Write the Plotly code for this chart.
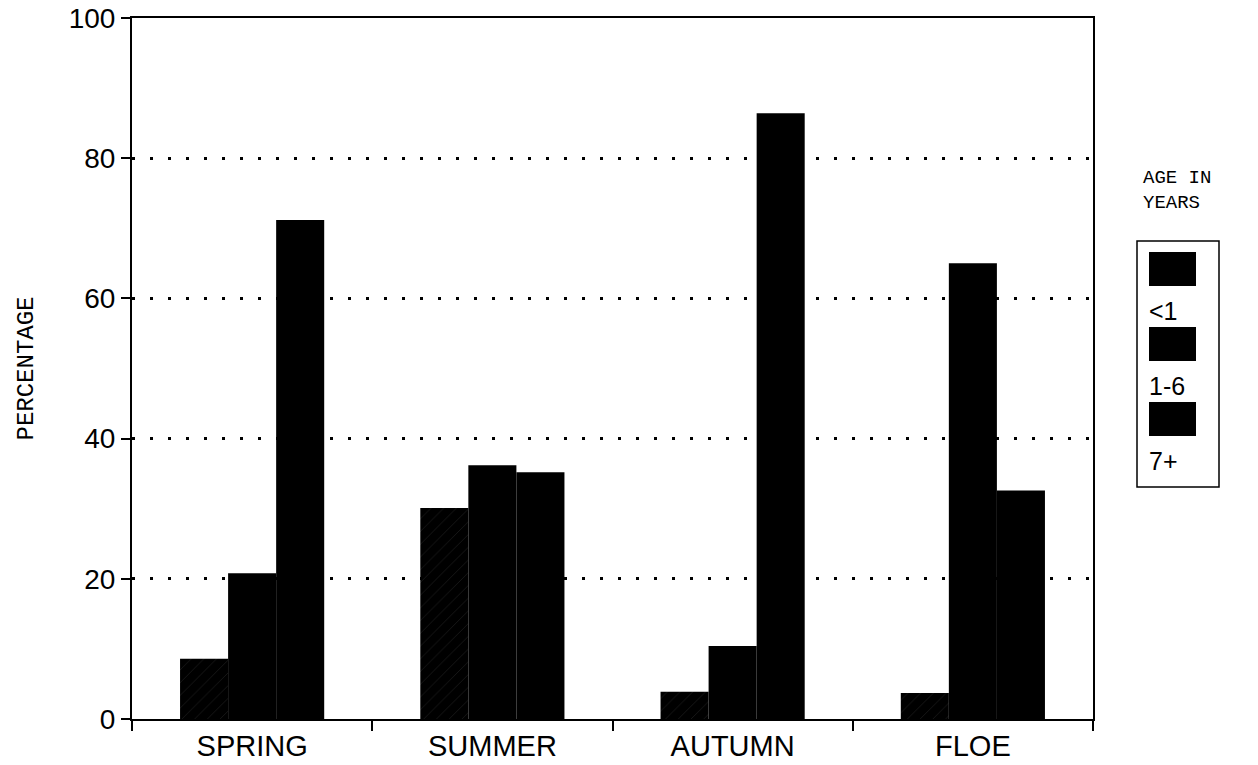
import plotly.graph_objects as go

categories = ["SPRING", "SUMMER", "AUTUMN", "FLOE"]
age_groups = ["<1", "1-6", "7+"]
values_lt1 = [8.6, 30.1, 3.9, 3.7]
values_1_6 = [20.8, 36.2, 10.4, 65.0]
values_7p = [71.2, 35.2, 86.4, 32.6]
y_ticks = [0, 20, 40, 60, 80, 100]

W, H = 1258, 765
L, R, T, B = 132, 165, 18, 46
PW, PH = W - L - R, H - T - B


def px(x):
    return (x - L) / PW


def py(y):
    return (H - B - y) / PH


fig = go.Figure()
series = [values_lt1, values_1_6, values_7p]
patterns = [
    dict(shape="/", fgcolor="#3a3a3a", bgcolor="#000000", size=9, solidity=0.08),
    dict(shape=""),
    dict(shape=""),
]
for name, vals, pat in zip(age_groups, series, patterns):
    fig.add_trace(go.Bar(
        x=categories, y=vals, name=name,
        marker=dict(color="#000000", line=dict(width=0), pattern=pat),
        showlegend=False,
    ))

fig.update_layout(
    width=W, height=H,
    margin=dict(l=L, r=R, t=T, b=B, pad=0, autoexpand=False),
    paper_bgcolor="white", plot_bgcolor="white",
    barmode="group", bargap=0.4, bargroupgap=0,
    font=dict(family="Liberation Sans", color="black"),
)

fig.update_xaxes(
    automargin=False,
    showline=True, linecolor="black", linewidth=2, mirror=True,
    ticks="outside", tickson="boundaries", ticklen=10, tickwidth=2, tickcolor="black",
    tickfont=dict(family="Liberation Sans", size=29, color="black"),
    showgrid=False,
)
fig.update_yaxes(
    automargin=False,
    range=[0, 100], tickvals=y_ticks,
    showline=True, linecolor="black", linewidth=2, mirror=True,
    ticks="outside", ticklen=9, tickwidth=2, tickcolor="black",
    tickfont=dict(family="Liberation Sans", size=28, color="black"),
    showgrid=True, gridcolor="black", gridwidth=2.5, griddash="3px,15px",
    zeroline=False,
    title=dict(text="PERCENTAGE", font=dict(family="Liberation Mono", size=24, color="black"), standoff=28),
)

# custom legend (swatches stacked with labels beneath)
shapes = [dict(type="rect", xref="paper", yref="paper",
               x0=px(1137), x1=px(1219), y0=py(487), y1=py(241),
               line=dict(color="black", width=1.5), fillcolor="white")]
sw_tops = [252, 327, 402]
for top in sw_tops:
    shapes.append(dict(type="rect", xref="paper", yref="paper",
                       x0=px(1149), x1=px(1196), y0=py(top + 34), y1=py(top),
                       line=dict(width=0), fillcolor="black"))
fig.update_layout(shapes=shapes)

annotations = [
    dict(text="AGE IN<br>YEARS", xref="paper", yref="paper", x=px(1141), y=py(190),
         xanchor="left", yanchor="middle", showarrow=False, align="left",
         font=dict(family="Liberation Mono", size=19, color="black")),
]
label_y = [311, 386, 461]
for lab, yy in zip(age_groups, label_y):
    annotations.append(dict(text=lab, xref="paper", yref="paper", x=px(1147), y=py(yy),
                            xanchor="left", yanchor="middle", showarrow=False,
                            font=dict(family="Liberation Sans", size=25, color="black")))
fig.update_layout(annotations=annotations)

fig.write_html("out.html")
